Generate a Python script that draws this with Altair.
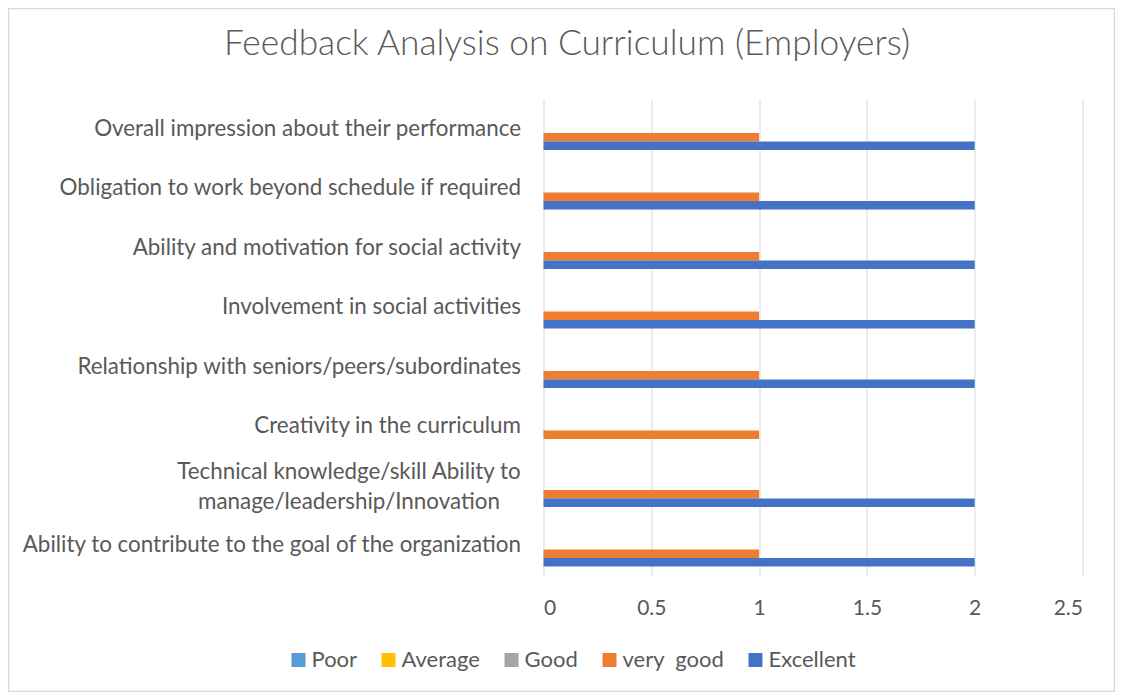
import altair as alt
import pandas as pd

categories = [
    "Overall impression about their performance",
    "Obligation to work beyond schedule if required",
    "Ability and motivation for social activity",
    "Involvement in social activities",
    "Relationship with seniors/peers/subordinates",
    "Creativity in the curriculum",
    "Technical knowledge/skill Ability to manage/leadership/Innovation",
    "Ability to contribute to the goal of the organization",
]
series = ["Poor", "Average", "Good", "very  good", "Excellent"]
colors = ["#5B9BD5", "#FFC000", "#A5A5A5", "#ED7D31", "#4472C4"]

poor = [0, 0, 0, 0, 0, 0, 0, 0]
average = [0, 0, 0, 0, 0, 0, 0, 0]
good = [0, 0, 0, 0, 0, 0, 0, 0]
very_good = [1, 1, 1, 1, 1, 1, 1, 1]
excellent = [2, 2, 2, 2, 2, 0, 2, 2]

title_text = "Feedback Analysis on Curriculum (Employers)"

values = [poor, average, good, very_good, excellent]
rows = []
for s, vals in zip(series, values):
    for c, v in zip(categories, vals):
        rows.append({"category": c, "series": s, "value": v})
df = pd.DataFrame(rows)

FONT = "Lato"
GREY = "#595959"

is_wrapped = "indexof(datum.label, 'Ability to manage') >= 0"
wrap_expr = (
    is_wrapped + " ? "
    "['Technical knowledge/skill Ability to', 'manage/leadership/Innovation'] : datum.label"
)

bars = alt.Chart(df).mark_bar().encode(
    y=alt.Y(
        "category:N",
        sort=categories,
        scale=alt.Scale(paddingInner=0, paddingOuter=0),
        axis=alt.Axis(
            title=None,
            domain=False,
            ticks=False,
            grid=False,
            labelFont=FONT,
            labelFontSize=22.4,
            labelColor=GREY,
            labelPadding={"condition": {"test": is_wrapped, "value": 195}, "value": 23},
            labelAlign={"condition": {"test": is_wrapped, "value": "center"}, "value": "right"},
            labelOffset={"condition": {"test": is_wrapped, "value": -14}, "value": 0},
            labelLimit=600,
            labelLineHeight=30,
            labelExpr=wrap_expr,
        ),
    ),
    yOffset=alt.YOffset(
        "series:N",
        sort=series,
        scale=alt.Scale(paddingInner=0, paddingOuter=1),
    ),
    x=alt.X(
        "value:Q",
        scale=alt.Scale(domain=[0, 2.5], nice=False),
        axis=alt.Axis(
            title=None,
            domain=False,
            ticks=False,
            values=[0, 0.5, 1, 1.5, 2, 2.5],
            format="~g",
            grid=True,
            gridColor="#D9D9D9",
            gridWidth=1,
            labelFont=FONT,
            labelFontSize=21,
            labelColor=GREY,
            labelPadding=22,
        ),
    ),
    color=alt.Color(
        "series:N",
        sort=series,
        scale=alt.Scale(domain=series, range=colors),
        legend=alt.Legend(
            title=None,
            orient="none",
            legendX=-256,
            legendY=550,
            direction="horizontal",
            columns=5,
            padding=0,
            symbolType="square",
            symbolSize=196,
            symbolStrokeWidth=0,
            labelFont=FONT,
            labelFontSize=22,
            labelColor=GREY,
            labelOffset=2,
            columnPadding=20,
            labelExpr="replace(datum.label, '  ', '\u00a0 ')",
        ),
    ),
)

title = alt.Chart(alt.Data(values=[{"t": title_text}])).mark_text(
    font=FONT,
    fontSize=35.3,
    fontWeight=300,
    color=GREY,
    align="center",
    baseline="alphabetic",
).encode(
    text="t:N",
    x=alt.value(23.5),
    y=alt.value(-44),
)

border = alt.Chart(alt.Data(values=[{}])).mark_rect(
    fill=None, stroke="#D9D9D9", strokeWidth=1.5
).encode(
    x=alt.value(-535),
    x2=alt.value(571),
    y=alt.value(-90.5),
    y2=alt.value(592.5),
)

chart = alt.layer(bars, title, border).properties(
    width=539,
    height=476,
    autosize=alt.AutoSizeParams(type="none"),
    padding={"left": 535.5, "top": 91, "right": 32.5, "bottom": 117},
).configure_view(stroke=None)

chart.save("out.html", embed_options={"renderer": "svg", "actions": False})
